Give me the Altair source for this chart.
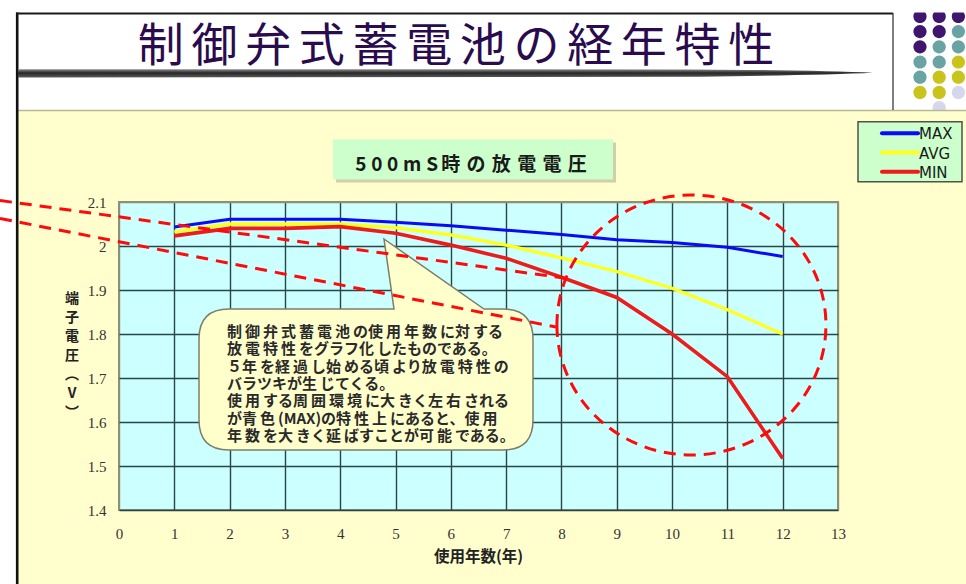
import altair as alt
import pandas as pd

# ---------------- data ----------------
YEARS = [1, 2, 3, 4, 5, 6, 7, 8, 9, 10, 11, 12]
V_MAX = [2.043, 2.061, 2.061, 2.061, 2.054, 2.046, 2.036, 2.026, 2.014, 2.008, 1.997, 1.976]
V_AVG = [2.032, 2.050, 2.050, 2.050, 2.042, 2.025, 2.002, 1.973, 1.942, 1.904, 1.855, 1.800]
V_MIN = [2.023, 2.040, 2.040, 2.044, 2.029, 2.002, 1.972, 1.929, 1.883, 1.800, 1.703, 1.517]
SERIES = ["MAX", "AVG", "MIN"]
SERIES_COLORS = ["#0a0af5", "#ffff1e", "#ec1c1c"]
SERIES_WIDTHS = [3.0, 3.6, 3.0]
X_TICKS = list(range(0, 14))
Y_TICKS = [1.4, 1.5, 1.6, 1.7, 1.8, 1.9, 2.0, 2.1]

TITLE = "制御弁式蓄電池の経年特性"
SUBTITLE_NUM = "500mS"
SUBTITLE_TXT = "時の放電電圧"
NOTE_LINES = [
    "制御弁式蓄電池の使用年数に対する",
    "放電特性をグラフ化したものである。",
    "５年を経過し始める頃より放電特性の",
    "バラツキが生じてくる。",
    "使用する周囲環境に大きく左右される",
    "が青色(MAX)の特性上にあると、使用",
    "年数を大きく延ばすことが可能である。",
]
X_TITLE = "使用年数(年)"
Y_TITLE_LINES = ["端", "子", "電", "圧", "︵", "V", "︶"]

# dashed guide lines and focus ellipse, in data units (year, volt)
GUIDE_UPPER = (-2.152, 2.1034, 8.064, 1.927)
GUIDE_LOWER = (-2.152, 2.0625, 7.901, 1.816)
FOCUS_CENTER = (10.35, 1.8205)

# ---------------- layout ----------------
W, H = 966, 584
PL, PT = 119, 202          # plot origin on the page
PW, PH = 719, 308          # plot size
JP = "Noto Sans CJK JP"
RED = "#ff0a0a"

ONE = pd.DataFrame({"_": [0]})


def ax(px):
    return alt.value(px - PL)


def ay(py):
    return alt.value(py - PT)


def rect(x1, y1, x2, y2, **mark):
    return alt.Chart(ONE).mark_rect(**mark).encode(x=ax(x1), x2=ax(x2), y=ay(y1), y2=ay(y2))


def rule(x1, y1, x2, y2, **mark):
    return alt.Chart(ONE).mark_rule(**mark).encode(x=ax(x1), x2=ax(x2), y=ay(y1), y2=ay(y2))


def shape(path, **mark):
    # custom symbol path drawn in page pixels (size 4 -> unit scale)
    return alt.Chart(ONE).mark_point(shape=path, size=4, opacity=1, **mark).encode(
        x=alt.value(-PL), y=alt.value(-PT))


def text(x, y, t, **mark):
    return alt.Chart(ONE).mark_text(text=t, **mark).encode(x=ax(x), y=ay(y))


def ellipse(cx, cy, rx, ry):
    return (f"M{cx - rx},{cy} A{rx},{ry} 0 1,0 {cx + rx},{cy} "
            f"A{rx},{ry} 0 1,0 {cx - rx},{cy} Z")


def loosen(line):
    # a thin space after each kanji, kana kept tight (proportional look)
    out = []
    for ch in line:
        out.append(ch)
        if "\u4e00" <= ch <= "\u9fff":
            out.append("\u2009")
    return "".join(out).rstrip("\u2009")


# ---------------- slide frame ----------------
layers = []
layers.append(rect(0, 0, W, 110, color="white"))
layers.append(rect(0, 110, 16, H, color="white"))

# dotted ornament, top right
DOT_X = [920, 939.2, 958.4]
DOT_Y = [16.4, 31.6, 46.8, 62.0, 77.2, 92.4, 107.6]
DOT_ROWS = ["PPP", "PPT", "PTT", "TTY", "TYY", "YYL", " L "]
DOT_COLORS = {"P": "#3f1570", "T": "#6aa3a3", "Y": "#c9c31c", "L": "#d6d6ef"}
for key, col in DOT_COLORS.items():
    p = " ".join(ellipse(DOT_X[c], DOT_Y[r], 6.6, 6.6)
                 for r, row in enumerate(DOT_ROWS) for c, k in enumerate(row) if k == key)
    layers.append(shape(p, filled=True, fill=col, strokeWidth=0))
layers.append(rect(893, 0, W, 12.5, color="white"))
layers.append(rect(893, 110, W, 118, color="#fffecc"))

layers.append(rule(18, 110.5, W, 110.5, color="#b9b996", strokeWidth=1.5))
layers.append(rule(17.2, 12.5, 17.2, H, color="#111111", strokeWidth=2.6))
layers.append(rule(16, 13.5, 893, 13.5, color="#1a1a1a", strokeWidth=2))
layers.append(rule(893, 13, 893, 110, color="#3a3a3a", strokeWidth=1.3))

swoosh = "M18,69.3 L700,69.4 Q820,70.4 873,72.8 Q820,75.2 700,76.8 L18,77.4 Z"
layers.append(shape(swoosh, filled=True, strokeWidth=0, fill={
    "gradient": "linear", "x1": 0, "y1": 0, "x2": 0, "y2": 1,
    "stops": [{"offset": 0, "color": "#8a8a8a"},
              {"offset": 0.45, "color": "#262626"},
              {"offset": 1, "color": "#5a5a5a"}]}))

layers.append(text(456, 60.5, "\u2006".join(TITLE), font=JP, fontSize=46,
                   color="#2a0c4e", align="center", baseline="alphabetic"))

# ---------------- chart title box ----------------
layers.append(rect(336, 142.5, 616, 182.5, color="#a8a890", opacity=0.55))
layers.append(rect(333, 139.5, 613, 179.5, color="#ccffcc"))
layers.append(text(471, 170.5, "\u2005".join(SUBTITLE_NUM) + "\u2006" + "\u2004".join(SUBTITLE_TXT),
                   font=JP, fontSize=19, fontWeight="bold", color="#1a1a1a",
                   align="center", baseline="alphabetic"))

# ---------------- legend ----------------
layers.append(rect(858, 121.7, 962, 181.7, color="#ccffcc", stroke="#4d5447", strokeWidth=1.5))
for i, (name, col) in enumerate(zip(SERIES, SERIES_COLORS)):
    yy = 133.3 + i * 19.2
    layers.append(rule(882, yy, 918, yy, color=col, strokeWidth=4, strokeCap="round"))
    layers.append(text(919, yy + 1, name, font="DejaVu Sans", fontSize=15, color="#1a1a1a",
                       align="left", baseline="middle"))

# ---------------- axis titles ----------------
layers.append(text(478.5, 562, X_TITLE, font=JP, fontSize=15.5, fontWeight="bold",
                   color="#222222", align="center", baseline="alphabetic"))
layers.append(text(72, 303.3, Y_TITLE_LINES, font=JP, fontSize=14, fontWeight="bold",
                   color="#222222", align="center", baseline="alphabetic", lineHeight=19))

# ---------------- voltage curves ----------------
long = pd.DataFrame({
    "year": YEARS * 3,
    "volt": V_MAX + V_AVG + V_MIN,
    "series": [s for s in SERIES for _ in YEARS],
})

x_axis = alt.Axis(
    values=X_TICKS, title=None, ticks=False, domain=False, format="d",
    labelFont="Liberation Serif", labelFontSize=15, labelColor="#333333",
    labelPadding=16, labelFlush=False, labelOverlap=False,
    grid=True, gridWidth=1.4, gridOpacity=1,
    gridColor=alt.condition("datum.value <= 0 || datum.value >= 13",
                            alt.value("#8f8f78"), alt.value("#284646")),
)
y_axis = alt.Axis(
    values=Y_TICKS, title=None, ticks=False, domain=False, format="~g",
    labelFont="Liberation Serif", labelFontSize=15, labelColor="#333333",
    labelPadding=13, labelOverlap=False,
    grid=True, gridWidth=1.4, gridOpacity=1,
    gridColor=alt.condition("datum.value >= 2.09",
                            alt.value("#8f8f78"), alt.value("#284646")),
)

curves = alt.Chart(long).mark_line().encode(
    x=alt.X("year:Q", scale=alt.Scale(domain=[0, 13], nice=False, zero=False), axis=x_axis),
    y=alt.Y("volt:Q", scale=alt.Scale(domain=[1.4, 2.1], nice=False, zero=False), axis=y_axis),
    color=alt.Color("series:N", scale=alt.Scale(domain=SERIES, range=SERIES_COLORS), legend=None),
    strokeWidth=alt.StrokeWidth("series:N", scale=alt.Scale(domain=SERIES, range=SERIES_WIDTHS),
                                legend=None),
)
layers.append(curves)

# ---------------- speech balloon ----------------
L, T, R, B, r = 199, 309, 533, 450, 30
balloon = (f"M{L + r},{T} L394,{T} L384,239 L484,{T} L{R - r},{T} Q{R},{T} {R},{T + r} "
           f"L{R},{B - r} Q{R},{B} {R - r},{B} L{L + r},{B} Q{L},{B} {L},{B - r} "
           f"L{L},{T + r} Q{L},{T} {L + r},{T} Z")
layers.append(shape(balloon, filled=True, fill="#ffffcc", stroke="#7d7d6c", strokeWidth=1.5))
layers.append(text(227, 337, [loosen(s) for s in NOTE_LINES], font=JP, fontSize=15,
                   fontWeight="bold", color="#2a2a2a", align="left", baseline="alphabetic",
                   lineHeight=17.3))

# ---------------- red dashed annotations ----------------
for (xa, ya, xb, yb) in (GUIDE_UPPER, GUIDE_LOWER):
    layers.append(alt.Chart(ONE).mark_rule(color=RED, strokeWidth=3, strokeDash=[12, 8]).encode(
        x=alt.datum(xa), y=alt.datum(ya), x2=alt.datum(xb), y2=alt.datum(yb)))

layers.append(alt.Chart(ONE).mark_point(
    shape=ellipse(0, 0, 134.5, 130), size=4, filled=False, color=RED, stroke=RED,
    strokeWidth=3, strokeDash=[12, 8], opacity=1).encode(
    x=alt.datum(FOCUS_CENTER[0]), y=alt.datum(FOCUS_CENTER[1])))

chart = alt.layer(*layers).properties(
    width=PW, height=PH,
    padding={"left": PL, "top": PT, "right": W - PL - PW, "bottom": H - PT - PH},
    autosize=alt.AutoSizeParams(type="none"),
    background="#fffecc",
).configure_view(fill="#ccffff", stroke="#8f8f78", strokeWidth=2)

chart.save("out.html", embed_options={"renderer": "svg", "actions": False})
